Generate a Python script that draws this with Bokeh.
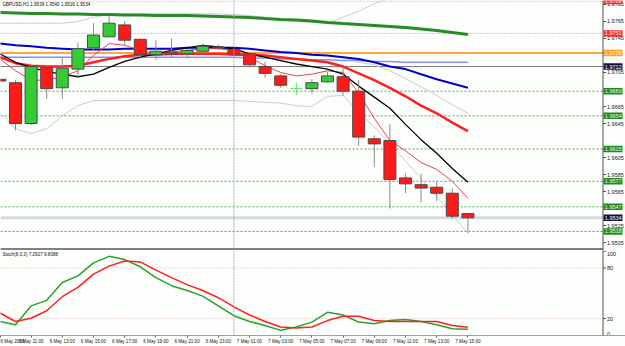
from bokeh.plotting import figure
from bokeh.models import (Span, FixedTicker, Range1d, BoxAnnotation)
from bokeh.layouts import column
from bokeh.embed import file_html
from bokeh.resources import INLINE
from bokeh.core.properties import value

# ---------------- data ----------------
bars = list(range(31))  # 6 May 09:00 ... 7 May 15:00 (H1)
opens  = [1.9697,1.9693,1.9645,1.9711,1.9687,1.9709,1.9734,1.9747,1.9761,1.9744,
          1.9726,1.9729,1.9727,1.9730,1.9735,1.9732,1.9727,1.9712,1.9701,1.9686,
          1.9686,1.9694,1.9700,1.9683,1.9627,1.9625,1.9581,1.9573,1.9570,1.9563,1.9539]
highs  = [1.9698,1.9696,1.9713,1.9712,1.9723,1.9740,1.9763,1.9772,1.9765,1.9745,
          1.9743,1.9745,1.9733,1.9739,1.9738,1.9733,1.9729,1.9718,1.9703,1.9693,
          1.9697,1.9706,1.9710,1.9696,1.9631,1.9644,1.9586,1.9586,1.9577,1.9569,1.9540]
lows   = [1.9693,1.9637,1.9643,1.9674,1.9674,1.9699,1.9731,1.9746,1.9737,1.9721,
          1.9720,1.9723,1.9723,1.9726,1.9731,1.9726,1.9711,1.9699,1.9687,1.9678,
          1.9680,1.9693,1.9678,1.9619,1.9594,1.9545,1.9563,1.9552,1.9554,1.9533,1.9516]
closes = [1.9695,1.9645,1.9712,1.9686,1.9710,1.9733,1.9749,1.9763,1.9743,1.9726,
          1.9730,1.9726,1.9731,1.9736,1.9734,1.9727,1.9714,1.9704,1.9690,1.9686,
          1.9693,1.9701,1.9683,1.9629,1.9621,1.9579,1.9574,1.9569,1.9563,1.9536,1.9534]

ma_green = [1.97756,1.97750,1.97744,1.97744,1.97738,1.97738,1.97732,1.97732,1.97726,1.97726,
            1.97721,1.97721,1.97721,1.97715,1.97709,1.97703,1.97697,1.97685,1.97674,1.97668,
            1.97656,1.97638,1.97626,1.97615,1.97603,1.97591,1.97579,1.97562,1.97544,1.97521,1.97497]
ma_blue = [1.9739,1.9737,1.9736,1.9734,1.9733,1.9732,1.9732,1.9732,1.9733,1.9733,
           1.9733,1.9733,1.9734,1.9734,1.9734,1.9734,1.9733,1.9731,1.9729,1.9728,
           1.9726,1.9725,1.9723,1.9721,1.9717,1.9712,1.9709,1.9703,1.9697,1.9692,1.9687]
ma_red = [1.9723,1.9716,1.9713,1.9712,1.9712,1.9713,1.9717,1.9721,1.9724,1.9726,
          1.9726,1.9727,1.9727,1.9727,1.9727,1.9726,1.9726,1.9725,1.9723,1.9721,
          1.9719,1.9717,1.9712,1.9704,1.9696,1.9687,1.9677,1.9666,1.9657,1.9646,1.9636]
ma_black = [1.9727,1.9717,1.9711,1.9706,1.9703,1.9700,1.9703,1.9711,1.9718,1.9723,
            1.9727,1.9731,1.9734,1.9737,1.9735,1.9733,1.9727,1.9723,1.9719,1.9715,
            1.9712,1.9709,1.9703,1.9689,1.9676,1.9663,1.9644,1.9626,1.9610,1.9592,1.9576]
ma_pink = [1.9721,1.9707,1.9696,1.9696,1.9700,1.9707,1.9725,1.9739,1.9737,1.9731,
           1.9727,1.9729,1.9731,1.9733,1.9733,1.9731,1.9723,1.9713,1.9705,1.9701,
           1.9703,1.9707,1.9705,1.9681,1.9651,1.9625,1.9613,1.9599,1.9591,1.9577,1.9557]
ma_lavender = [1.9723,1.9723,1.9723,1.9723,1.9723,1.9723,1.9723,1.9723,1.9723,1.9723,
               1.9723,1.9723,1.9723,1.9723,1.9723,1.9723,1.9722,1.9722,1.9721,1.9721,
               1.9720,1.9720,1.9719,1.9719,1.9718,1.9718,1.9717,1.9717,1.9717,1.9717,1.9717]
bb_upper = [1.9763,1.9763,1.9763,1.9763,1.9763,1.9765,1.9770,1.9773,1.9774,1.9774,
            1.9774,1.9774,1.9774,1.9774,1.9774,1.9773,1.9772,1.9770,1.9767,1.9765,
            1.9764,1.9763,1.9770,1.9777,1.9786,1.9792,1.9794,1.9796,1.9797,1.9797,1.9798]
bb_lower = [1.9658,1.9639,1.9633,1.9639,1.9654,1.9666,1.9672,1.9672,1.9672,1.9672,
            1.9672,1.9672,1.9672,1.9672,1.9672,1.9672,1.9671,1.9670,1.9669,1.9666,
            1.9665,1.9677,1.9678,1.9658,1.9641,1.9621,1.9601,1.9580,1.9559,1.9537,1.9516]
bb_mid_bars = [22,23,24,25,26,27,28,29,30]
bb_mid = [1.9724,1.9717,1.9714,1.9707,1.9698,1.9688,1.9678,1.9667,1.9657]

stoch_main = [16.6,12.7,35.1,41.7,62.9,70.7,86.1,93.9,90.0,81.5,68.7,59.1,53.3,46.7,35.1,23.5,
              16.6,11.9,6.1,10.1,15.9,27.5,24.3,15.9,13.9,17.7,18.9,16.6,12.7,8.1,7.3]
stoch_signal = [26.7,16.6,20.5,29.3,46.0,57.1,72.7,82.3,88.4,87.3,77.6,68.7,60.3,53.3,44.8,34.0,
                24.3,16.6,10.1,8.9,10.1,17.7,22.8,22.8,17.7,16.6,16.6,16.6,16.6,11.9,9.8]

red_levels = [1.9789, 1.9751]
orange_level = 1.9728
gray_level = 1.9712
green_levels = [1.9683, 1.9654, 1.9615, 1.9577, 1.9547, 1.9518]
bid_level = 1.9534
day_separator_bar = 15
stoch_levels = [20, 80]

price_ticks = [1.9505, 1.9525, 1.9565, 1.9585, 1.9605, 1.9645, 1.9665, 1.9705, 1.9745, 1.9765, 1.9785]
stoch_ticks = [0, 20, 80, 100]
time_ticks = [0.06, 2, 4, 6, 8, 10, 12, 14, 16, 18, 20, 22, 24, 26, 28, 30]
time_labels = ["6 May 2008", "6 May 11:00", "6 May 13:00", "6 May 15:00", "6 May 17:00", "6 May 19:00",
               "6 May 21:00", "6 May 23:00", "7 May 01:00", "7 May 03:00", "7 May 05:00",
               "7 May 07:00", "7 May 09:00", "7 May 11:00", "7 May 13:00", "7 May 15:00"]
title_text = "GBPUSD,H1  1.9539 1.9540 1.9516 1.9534"
stoch_text = "Stoch(8,3,3) 7.2927 9.8088"

# ---------------- layout / style constants ----------------
BAR = 15.6           # px per bar
PX = 1.0 / BAR       # one pixel in bar units
BG = "#fcfefc"
FONT = "Liberation Sans"
X0 = 0.6 / BAR
AX = (602.5 + 0.6) / BAR   # price-scale line position (bar units)
Y_TOP, Y_BOT = 1.97897, 1.94956
x_rng = Range1d(X0, (625 + 0.6) / BAR)


def make_fig(height, y_rng, xaxis):
    f = figure(width=625, height=height, x_range=x_rng, y_range=y_rng, output_backend="svg",
               toolbar_location=None, x_axis_location=xaxis, y_axis_location=None,
               min_border_left=0, min_border_right=0, min_border_top=0, min_border_bottom=0,
               background_fill_color=BG, border_fill_color=BG, outline_line_color=None)
    f.grid.visible = False
    return f


def hline(f, levels, **kw):
    n = len(levels)
    f.segment(x0=[X0] * n, x1=[AX] * n, y0=levels, y1=levels, **kw)


def scale(f, ticks, labels, offsets=0):
    f.add_layout(Span(location=AX, dimension="height", line_color="#505050", line_width=1))
    n = len(ticks)
    f.segment(x0=[AX] * n, x1=[AX + 3 * PX] * n, y0=ticks, y1=ticks, line_color="#505050", line_width=1)
    f.text(x=[AX + 4 * PX] * n, y=ticks, text=labels, text_font=value(FONT), text_font_size="5.5px",
           text_color="#202020", text_baseline="middle", text_align="left", y_offset=offsets)


# ---------------- main window ----------------
main = make_fig(250, Range1d(Y_BOT, Y_TOP), None)

hline(main, red_levels, line_color="#f07070", line_dash="1 2", line_width=1)
hline(main, green_levels, line_color="#50a850", line_dash="2 2", line_width=1)
hline(main, [bid_level], line_color="#d4d8e0", line_width=3)
hline(main, [orange_level], line_color="#ffa640", line_width=2)
hline(main, [gray_level], line_color="#7a7a7a", line_width=1)
main.add_layout(Span(location=day_separator_bar, dimension="height", line_color="#a8a8b8",
                     line_dash="2 1", line_width=1))

main.line(bars, bb_upper, line_color="#cccccc", line_width=1)
main.line(bars, bb_lower, line_color="#cccccc", line_width=1)
main.line(bb_mid_bars, bb_mid, line_color="#cccccc", line_width=1)
main.line(bars, ma_green, line_color="#2a8a2a", line_width=3)
main.line(bars, ma_lavender, line_color="#8c8cff", line_width=1.5)
main.line(bars, ma_blue, line_color="#0000c8", line_width=2)
main.line(bars, ma_red, line_color="#ff2020", line_width=2.5)
main.line(bars, ma_pink, line_color="#e8405a", line_width=1)
main.line(bars, ma_black, line_color="#000000", line_width=1.3)

up = [i for i in bars if closes[i] > opens[i]]
dn = [i for i in bars if closes[i] < opens[i]]
dj = [i for i in bars if closes[i] == opens[i]]
nd = [i for i in bars if closes[i] != opens[i]]
main.segment(x0=nd, y0=[highs[i] for i in nd], x1=nd, y1=[lows[i] for i in nd],
             line_color="#8a8a8a", line_width=1)
main.vbar(x=up, width=0.77, top=[closes[i] for i in up], bottom=[opens[i] for i in up],
          fill_color="#33cc33", line_color="#4a4a4a", line_width=1)
main.vbar(x=dn, width=0.77, top=[opens[i] for i in dn], bottom=[closes[i] for i in dn],
          fill_color="#ff1a1a", line_color="#4a4a4a", line_width=1)
main.segment(x0=dj, y0=[highs[i] for i in dj], x1=dj, y1=[lows[i] for i in dj],
             line_color="#66dd66", line_width=1)
main.segment(x0=[i - 0.385 for i in dj], y0=[opens[i] for i in dj],
             x1=[i + 0.385 for i in dj], y1=[closes[i] for i in dj],
             line_color="#66dd66", line_width=1)

# separator bar between the two windows
main.add_layout(BoxAnnotation(right=AX, bottom=Y_BOT, top=Y_BOT + 2.4 / 8500, fill_color="#808080",
                              fill_alpha=1, line_color=None))

scale(main, price_ticks, ["%.4f" % t for t in price_ticks])

tag_levels = red_levels + [orange_level, gray_level] + green_levels + [bid_level]
tag_colors = ["#ff2a2a", "#ff2a2a", "#ffa020", "#12123a"] + ["#1e8a1e"] * len(green_levels) + ["#12123a"]
main.rect(x=[AX + 10 * PX] * len(tag_levels), y=tag_levels, width=19 * PX, height=6.5,
          height_units="screen", fill_color=tag_colors, line_color=None)
main.text(x=[AX + 1.8 * PX] * len(tag_levels), y=tag_levels, text=["%.4f" % t for t in tag_levels],
          text_font=value(FONT), text_font_size="5.5px", text_color="#f4f4f4",
          text_baseline="middle", text_align="left")

main.text(x=[2.5 * PX], y=[Y_TOP - 1.0 / 8500], text=[title_text], text_font=value(FONT),
          text_font_size="4.6px", text_color="#101010", text_baseline="top", text_align="left")

# ---------------- stochastic window ----------------
st = make_fig(96, Range1d(0, 100.8), "below")
sx = st.xaxis[0]
sx.ticker = FixedTicker(ticks=time_ticks)
sx.major_label_overrides = {t: l for t, l in zip(time_ticks, time_labels)}
sx.major_label_text_align = "left"
sx.major_label_text_font_size = "4.6px"
sx.major_label_text_font = FONT
sx.major_label_text_color = "#202020"
sx.major_tick_out = 2
sx.major_tick_in = 0
sx.minor_tick_out = 0
sx.minor_tick_in = 0
sx.major_label_standoff = 1
sx.axis_line_color = "#a0a0a0"
sx.major_tick_line_color = "#606060"

hline(st, stoch_levels, line_color="#e4b4b4", line_dash="1 2", line_width=1)
st.add_layout(Span(location=day_separator_bar, dimension="height", line_color="#a8a8b8",
                   line_dash="2 1", line_width=1))
st.line(bars, stoch_main, line_color="#2ca02c", line_width=1.5)
st.line(bars, stoch_signal, line_color="#ff2020", line_width=1.5)
scale(st, stoch_ticks, [str(t) for t in stoch_ticks], offsets=[-2, 0, 0, 2.5])
st.text(x=[2.5 * PX], y=[99.5], text=[stoch_text], text_font=value(FONT), text_font_size="4.6px",
        text_color="#101010", text_baseline="top", text_align="left")

layout = column(main, st, spacing=0)
open("out.html", "w").write(file_html(layout, INLINE))
